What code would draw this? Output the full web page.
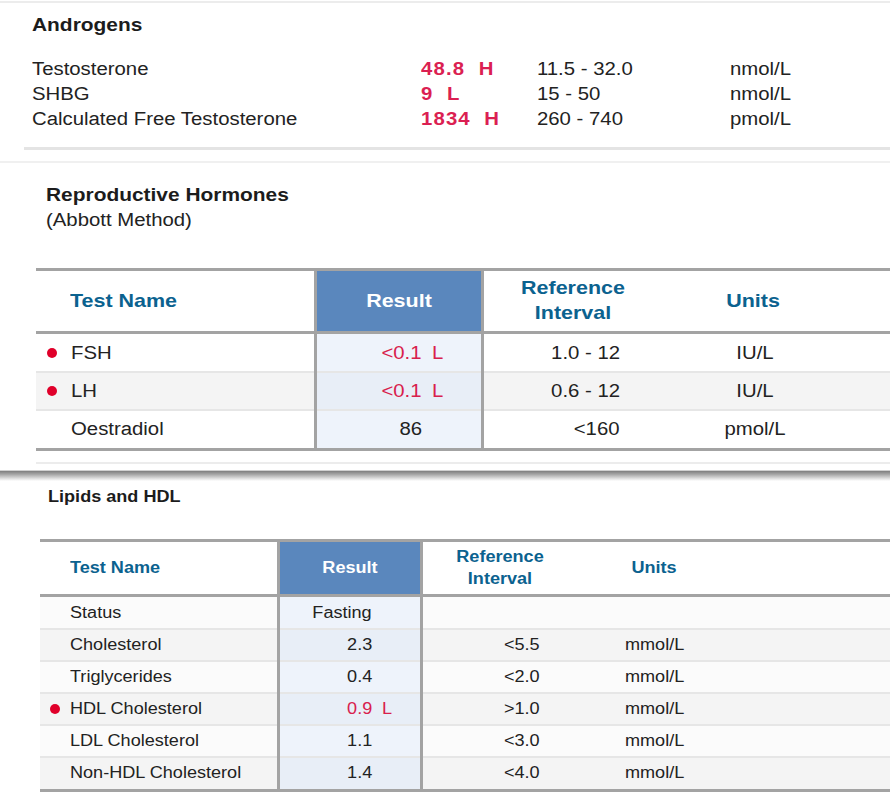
<!DOCTYPE html>
<html>
<head>
<meta charset="utf-8">
<script src="https://cdn.jsdelivr.net/npm/chart.js@4.4.1/dist/chart.umd.min.js"></script>
<style>
  html, body { margin: 0; padding: 0; background: #fff; }
  body { width: 890px; height: 801px; position: relative; overflow: hidden;
         font-family: "Liberation Sans", Arial, Helvetica, sans-serif; color: #222; }
  .abs { position: absolute; white-space: pre; }
  .title { font-weight: 700; color: #1c1c1c; }
  .red { color: #d8204d; }
  .redb { color: #db1f52; font-weight: 700; letter-spacing: 1px; }
  .hdr { font-weight: 700; color: #0b628f; text-align: center; line-height: 1.25; }
  .line { position: absolute; }
  .dot { position: absolute; width: 10px; height: 10px; border-radius: 50%; background: #e0002a; }
</style>
</head>
<body>
<div id="page"></div>
<script>
// Androgens
var androNames = ['Testosterone', 'SHBG', 'Calculated Free Testosterone'];
var androResults = ['48.8', '9', '1834'];
var androFlags = ['H', 'L', 'H'];
var androRanges = ['11.5 - 32.0', '15 - 50', '260 - 740'];
var androUnits = ['nmol/L', 'nmol/L', 'pmol/L'];

// Reproductive Hormones (Abbott Method)
var reproNames = ['FSH', 'LH', 'Oestradiol'];
var reproResults = ['<0.1', '<0.1', '86'];
var reproFlags = ['L', 'L', ''];
var reproRanges = ['1.0 - 12', '0.6 - 12', '<160'];
var reproUnits = ['IU/L', 'IU/L', 'pmol/L'];

// Lipids and HDL
var lipidNames = ['Status', 'Cholesterol', 'Triglycerides', 'HDL Cholesterol', 'LDL Cholesterol', 'Non-HDL Cholesterol'];
var lipidResults = ['Fasting', '2.3', '0.4', '0.9', '1.1', '1.4'];
var lipidFlags = ['', '', '', 'L', '', ''];
var lipidRanges = ['', '<5.5', '<2.0', '>1.0', '<3.0', '<4.0'];
var lipidUnits = ['', 'mmol/L', 'mmol/L', 'mmol/L', 'mmol/L', 'mmol/L'];

var page = document.getElementById('page');
var SX = 1.13; // the scan is a little wider than the font

function box(x, y, w, h, color, extra) {
    var d = document.createElement('div');
    d.className = 'line';
    d.style.left = x + 'px'; d.style.top = y + 'px';
    d.style.width = w + 'px'; d.style.height = h + 'px';
    d.style.background = color;
    if (extra) for (var k in extra) d.style[k] = extra[k];
    page.appendChild(d);
    return d;
}

function text(str, x, y, size, cls, align) {
    var d = document.createElement('div');
    d.className = 'abs ' + (cls || '');
    d.textContent = str;
    d.style.fontSize = size + 'px';
    d.style.lineHeight = '1';
    d.style.top = (y - size * 0.52) + 'px';
    d.style.transform = 'scaleX(' + SX + ')';
    if (align === 'right') {
        d.style.right = (890 - x) + 'px';
        d.style.transformOrigin = 'right center';
    } else if (align === 'center') {
        d.style.left = (x - 150) + 'px'; d.style.width = '300px'; d.style.textAlign = 'center';
        d.style.transformOrigin = 'center center';
    } else {
        d.style.left = x + 'px';
        d.style.transformOrigin = 'left center';
    }
    page.appendChild(d);
    return d;
}

function dot(x, y) {
    var d = document.createElement('div');
    d.className = 'dot';
    d.style.left = (x - 5) + 'px'; d.style.top = (y - 5) + 'px';
    page.appendChild(d);
}

// ---- section 1: Androgens ----
box(0, 1, 890, 2, '#ececec');
text('Androgens', 32, 26, 18.5, 'title');
androNames.forEach(function (n, i) {
    var y = 69 + i * 25;
    text(n, 32, y, 18);
    text(androResults[i] + '  ' + androFlags[i], 421, y, 18, 'redb');
    text(androRanges[i], 537, y, 18);
    text(androUnits[i], 730, y, 18);
});
box(24, 147, 866, 3, '#e4e4e4');
box(0, 161, 890, 2, '#f0f0f0');

// ---- section 2: Reproductive Hormones ----
text('Reproductive Hormones', 46, 196, 18.5, 'title');
text('(Abbott Method)', 46, 220, 18);

var t2 = { left: 36, top: 268, hdrH: 60, rowH: 38, c1: 315, c2: 482 };
var t2Bottom = t2.top + 3 + t2.hdrH + 3 + reproNames.length * t2.rowH;
reproNames.forEach(function (n, i) {
    var y = t2.top + 6 + t2.hdrH + i * t2.rowH;
    box(t2.left, y, 890 - t2.left, t2.rowH, i % 2 ? '#f4f4f4' : '#ffffff');
    box(t2.c1, y, t2.c2 - t2.c1, t2.rowH, i % 2 ? '#e8eef7' : '#eef3fb');
    if (i > 0) box(t2.left, y - 1, 890 - t2.left, 2, '#e6e6e6');
});
box(t2.c1, t2.top, t2.c2 - t2.c1, t2.hdrH + 3, '#5a87bd');
box(t2.left, t2.top, 890 - t2.left, 3, '#a3a3a3');
box(t2.left, t2.top + 3 + t2.hdrH, 890 - t2.left, 3, '#a3a3a3');
box(t2.left, t2Bottom, 890 - t2.left, 3, '#a3a3a3');
box(t2.c1 - 1, t2.top, 3, t2Bottom + 3 - t2.top, '#a3a3a3');
box(t2.c2 - 1, t2.top, 3, t2Bottom + 3 - t2.top, '#a3a3a3');

var h2 = t2.top + 3 + t2.hdrH / 2;
text('Test Name', 70, h2, 19, 'hdr');
text('Result', (t2.c1 + t2.c2) / 2, h2, 19, 'hdr', 'center').style.color = '#ffffff';
text('Reference', 573, h2 - 13, 19, 'hdr', 'center');
text('Interval', 573, h2 + 12, 19, 'hdr', 'center');
text('Units', 753, h2, 19, 'hdr', 'center');

reproNames.forEach(function (n, i) {
    var y = t2.top + 6 + t2.hdrH + i * t2.rowH + t2.rowH / 2;
    if (reproFlags[i]) dot(52, y);
    text(n, 71, y, 18);
    text(reproResults[i], 422, y, 18, reproFlags[i] ? 'red' : '', 'right');
    if (reproFlags[i]) text(reproFlags[i], 432, y, 18, 'red');
    text(reproRanges[i], 620, y, 18, '', 'right');
    text(reproUnits[i], 755, y, 18, '', 'center');
});
box(36, 462, 854, 2, '#ececec');

// card edge shadow
box(0, 470, 890, 1, '#d0d0d0');
box(0, 471, 890, 10, 'linear-gradient(#7e7e7e, #a8a8a8 35%, #e6e6e6 80%, #ffffff)');

// ---- section 3: Lipids and HDL ----
text('Lipids and HDL', 48, 497, 16, 'title');

var t3 = { left: 40, top: 539, hdrH: 52, rowH: 32, c1: 278, c2: 421 };
var t3Bottom = t3.top + 3 + t3.hdrH + 3 + lipidNames.length * t3.rowH;
lipidNames.forEach(function (n, i) {
    var y = t3.top + 6 + t3.hdrH + i * t3.rowH;
    box(t3.left, y, 890 - t3.left, t3.rowH, i % 2 ? '#f4f4f4' : '#fbfbfb');
    box(t3.c1, y, t3.c2 - t3.c1, t3.rowH, i % 2 ? '#e8eef7' : '#eef3fb');
    if (i > 0) box(t3.left, y - 1, 890 - t3.left, 2, '#e6e6e6');
});
box(t3.c1, t3.top, t3.c2 - t3.c1, t3.hdrH + 3, '#5a87bd');
box(t3.left, t3.top, 890 - t3.left, 3, '#a3a3a3');
box(t3.left, t3.top + 3 + t3.hdrH, 890 - t3.left, 3, '#a3a3a3');
box(t3.left, t3Bottom, 890 - t3.left, 3, '#a3a3a3');
box(t3.c1 - 1, t3.top, 3, t3Bottom + 3 - t3.top, '#a3a3a3');
box(t3.c2 - 1, t3.top, 3, t3Bottom + 3 - t3.top, '#a3a3a3');

var h3 = t3.top + 3 + t3.hdrH / 2;
text('Test Name', 70, h3, 16, 'hdr');
text('Result', (t3.c1 + t3.c2) / 2, h3, 16, 'hdr', 'center').style.color = '#ffffff';
text('Reference', 500, h3 - 11, 16, 'hdr', 'center');
text('Interval', 500, h3 + 11, 16, 'hdr', 'center');
text('Units', 654, h3, 16, 'hdr', 'center');

lipidNames.forEach(function (n, i) {
    var y = t3.top + 6 + t3.hdrH + i * t3.rowH + t3.rowH / 2;
    if (lipidFlags[i]) dot(55, y);
    text(n, 70, y, 16);
    if (i === 0) text(lipidResults[i], 342, y, 16, '', 'center');
    else text(lipidResults[i], 372, y, 16, lipidFlags[i] ? 'red' : '', 'right');
    if (lipidFlags[i]) text(lipidFlags[i], 382, y, 16, 'red');
    if (lipidRanges[i]) text(lipidRanges[i], 540, y, 16, '', 'right');
    if (lipidUnits[i]) text(lipidUnits[i], 625, y, 16);
});
</script>
</body>
</html>
